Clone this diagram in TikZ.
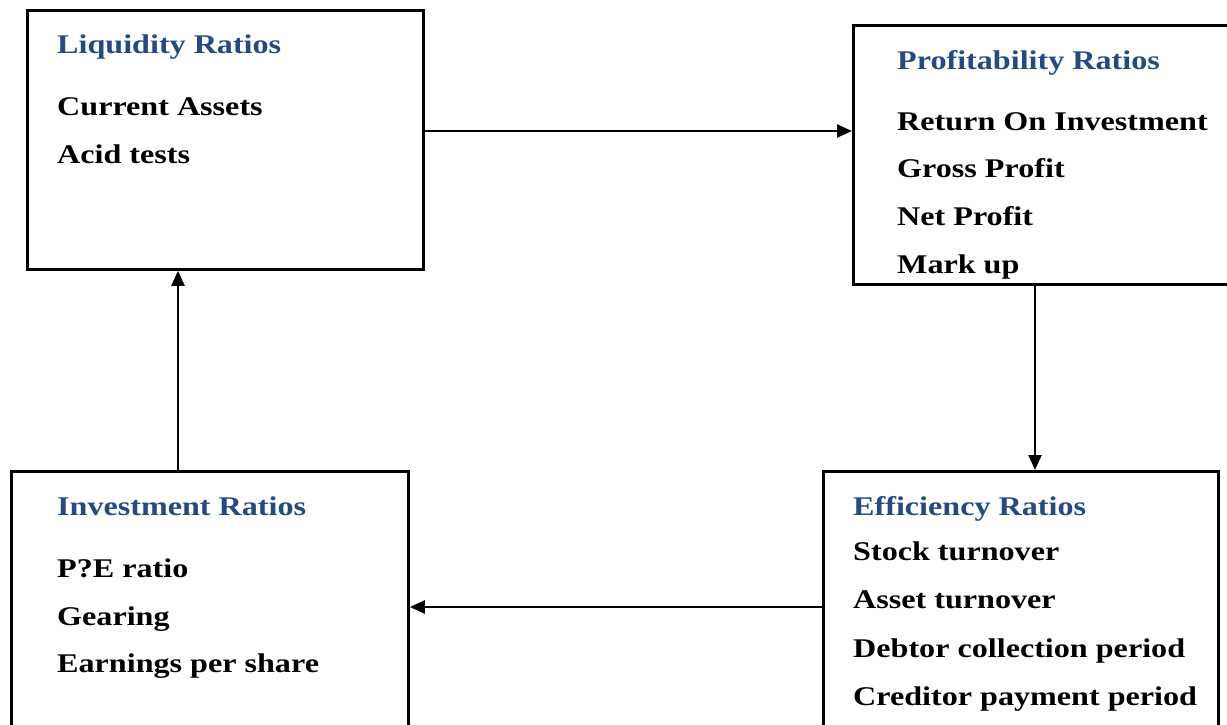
\documentclass[tikz,border=0pt]{standalone}
\usepackage{fontspec}
\setmainfont[FakeStretch=1.19]{Liberation Serif}
\usetikzlibrary{arrows.meta}
\definecolor{titleblue}{RGB}{36,74,128}
\tikzset{
  box/.style={draw=black, line width=2.8pt, rectangle, inner sep=0pt, anchor=north west},
  ttl/.style={anchor=base west, inner sep=0pt, text=titleblue, font=\fontsize{27}{30}\selectfont\bfseries},
  itm/.style={anchor=base west, inner sep=0pt, text=black, font=\fontsize{27}{30}\selectfont\bfseries},
  arr/.style={line width=2.4pt, -{Triangle[length=15pt,width=13pt]}}
}
\begin{document}
\begin{tikzpicture}[x=1pt,y=-1pt]
\clip (0,0) rectangle (1227,725);
\fill[white] (0,0) rectangle (1227,725);
% boxes
\node[box, minimum width=396pt, minimum height=259pt] (liq) at (26,9) {};
\node[box, minimum width=420pt, minimum height=259pt] (prof) at (852,24) {};
\node[box, minimum width=397pt, minimum height=280pt] (inv) at (10,470) {};
\node[box, minimum width=395pt, minimum height=280pt] (eff) at (822,470) {};
% texts
\node[ttl] (liqt) at (57,54) {Liquidity Ratios};
\node[itm] (liq1) at (57,115) {Current Assets};
\node[itm] (liq2) at (57,163) {Acid tests};
\node[ttl] (proft) at (897,70) {Profitability Ratios};
\node[itm] (prof1) at (897,130) {Return On Investment};
\node[itm] (prof2) at (897,177) {Gross Profit};
\node[itm] (prof3) at (897,225) {Net Profit};
\node[itm] (prof4) at (897,273) {Mark up};
\node[ttl] (invt) at (57,515) {Investment Ratios};
\node[itm] (inv1) at (57,577) {P?E ratio};
\node[itm] (inv2) at (57,625) {Gearing};
\node[itm] (inv3) at (57,672) {Earnings per share};
\node[ttl] (efft) at (853,515) {Efficiency Ratios};
\node[itm] (eff1) at (853,560) {Stock turnover};
\node[itm] (eff2) at (853,608) {Asset turnover};
\node[itm] (eff3) at (853,657) {Debtor collection period};
\node[itm] (eff4) at (853,705) {Creditor payment period};
% connectors
\coordinate (ya) at (0,131);
\coordinate (yb) at (0,607);
\coordinate (xa) at (178,0);
\coordinate (xb) at (1035,0);
\draw[arr] (liq.east |- ya) -- (prof.west |- ya);
\draw[arr] (prof.south -| xb) -- (eff.north -| xb);
\draw[arr] (eff.west |- yb) -- (inv.east |- yb);
\draw[arr] (inv.north -| xa) -- (liq.south -| xa);
\end{tikzpicture}
\end{document}
